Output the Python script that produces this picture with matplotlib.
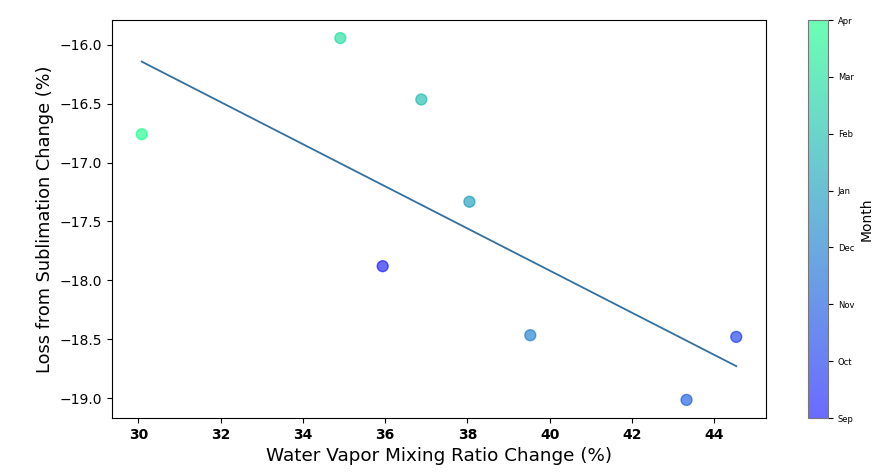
import numpy as np
import matplotlib
matplotlib.use("Agg")
import matplotlib.pyplot as plt

# Month order shown on the colour bar
months = ["Sep", "Oct", "Nov", "Dec", "Jan", "Feb", "Mar", "Apr"]

# One point per month
vapor_change = [30.08, 34.91, 36.88, 38.05, 35.94, 39.53, 43.33, 44.54]
sublimation_change = [-16.76, -15.944, -16.465, -17.333, -17.88, -18.466, -19.015, -18.48]
point_month = ["Apr", "Mar", "Feb", "Jan", "Sep", "Dec", "Nov", "Oct"]

W, H = 878, 474
fig = plt.figure(figsize=(W / 100, H / 100), dpi=100)
ax = fig.add_axes([112 / W, 1 - 418 / H, (766 - 112) / W, (418 - 20) / H])
cax = fig.add_axes([808 / W, 1 - 418 / H, 20 / W, (418 - 20) / H])

month_idx = [months.index(m) for m in point_month]
sc = ax.scatter(vapor_change, sublimation_change, c=month_idx, cmap="winter",
                vmin=0, vmax=len(months) - 1, s=62, alpha=0.58, zorder=3)

# Least-squares trend line across the data range
x = np.array(vapor_change)
y = np.array(sublimation_change)
slope, intercept = np.polyfit(x, y, 1)
xs = np.array([x.min(), x.max()])
ax.plot(xs, slope * xs + intercept, color="#33709f", lw=1.3, zorder=2)

ax.set_xlabel("Water Vapor Mixing Ratio Change (%)", fontsize=13.2)
ax.set_ylabel("Loss from Sublimation Change (%)", fontsize=12.8)
ax.tick_params(labelsize=10)
for lbl in ax.get_xticklabels():
    lbl.set_fontweight("bold")

cb = fig.colorbar(sc, cax=cax)
cb.set_ticks(range(len(months)))
cb.set_ticklabels(months)
cb.ax.tick_params(labelsize=6)
cb.set_label("Month", fontsize=10)
cb.outline.set_edgecolor("#777777")

fig.savefig("out.png", dpi=100)
